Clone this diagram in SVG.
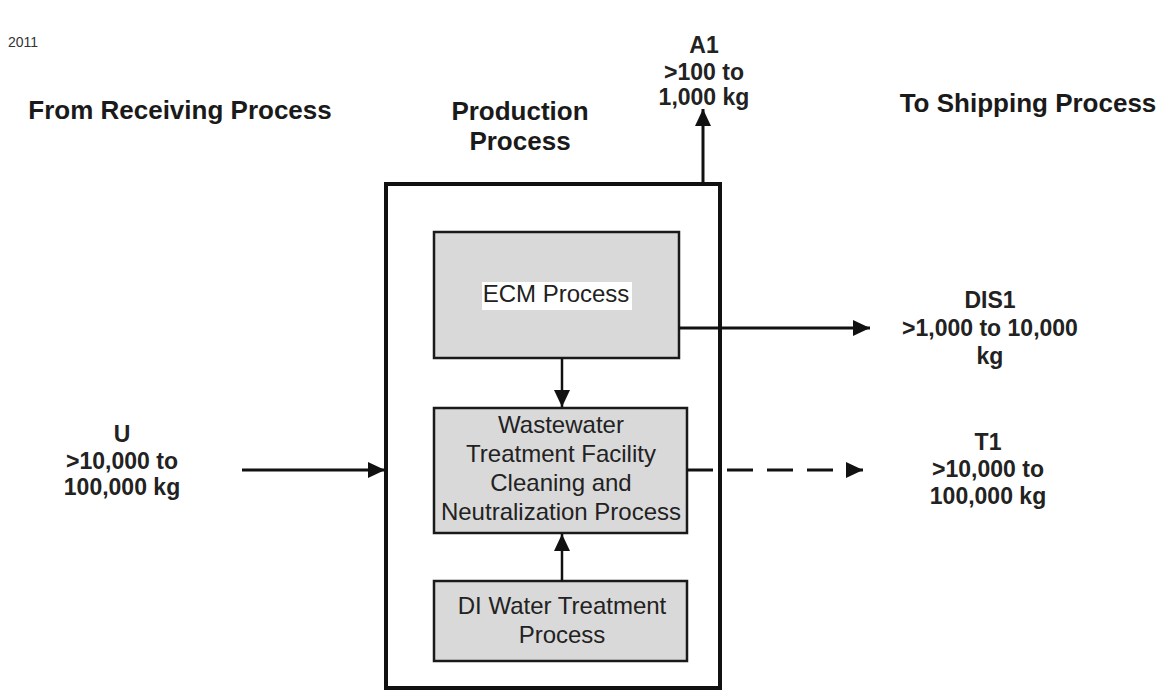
<svg xmlns="http://www.w3.org/2000/svg" width="1167" height="692" viewBox="0 0 1167 692">
<style>
.hdr{font-family:"Liberation Sans",Arial,sans-serif;font-weight:bold;font-size:26px;fill:#1a1a1a;text-anchor:middle}
.lbl{font-family:"Liberation Sans",Arial,sans-serif;font-weight:bold;font-size:23px;fill:#222;text-anchor:middle}
.box{fill:#d9d9d9;stroke:#1a1a1a;stroke-width:2.5}
.txt{font-family:"Liberation Sans",Arial,sans-serif;font-size:24px;fill:#222;text-anchor:middle}
.ln{stroke:#111;stroke-width:3;fill:none}
.ln2{stroke:#111;stroke-width:2.5;fill:none}
</style>
<defs>
<marker id="ah" markerUnits="userSpaceOnUse" markerWidth="18" markerHeight="18" refX="17" refY="8" orient="auto">
<path d="M0,0 L17,8 L0,16 z" fill="#111"/>
</marker>
</defs>
<rect width="1167" height="692" fill="#fff"/>
<text x="8" y="47" font-family="Liberation Sans,Arial,sans-serif" font-size="14" fill="#333">2011</text>
<g id="headers">
<text class="hdr" x="180" y="119">From Receiving Process</text>
<text class="hdr" x="520" y="120">Production</text>
<text class="hdr" x="520" y="150">Process</text>
<text class="hdr" x="1028" y="112">To Shipping Process</text>
</g>
<g id="production">
<rect x="386" y="184" width="334" height="504" fill="#fff" stroke="#111" stroke-width="4"/>
</g>
<g id="ecm">
<rect class="box" x="434" y="232" width="245" height="126"/>
<rect x="482" y="282" width="150" height="28" fill="#fff"/>
<text class="txt" x="556" y="302">ECM Process</text>
</g>
<g id="wastewater">
<rect class="box" x="434" y="408" width="253" height="125"/>
<text class="txt" x="561" y="433">Wastewater</text>
<text class="txt" x="561" y="462">Treatment Facility</text>
<text class="txt" x="561" y="491">Cleaning and</text>
<text class="txt" x="561" y="520">Neutralization Process</text>
</g>
<g id="diwater">
<rect class="box" x="434" y="581" width="253" height="80"/>
<text class="txt" x="562" y="614">DI Water Treatment</text>
<text class="txt" x="562" y="643">Process</text>
</g>
<g id="a1">
<text class="lbl" x="704" y="53">A1</text>
<text class="lbl" x="704" y="80">&gt;100 to</text>
<text class="lbl" x="704" y="105">1,000 kg</text>
</g>
<g id="dis1">
<text class="lbl" x="990" y="308">DIS1</text>
<text class="lbl" x="990" y="336">&gt;1,000 to 10,000</text>
<text class="lbl" x="990" y="364">kg</text>
</g>
<g id="t1">
<text class="lbl" x="988" y="450">T1</text>
<text class="lbl" x="988" y="477">&gt;10,000 to</text>
<text class="lbl" x="988" y="504">100,000 kg</text>
</g>
<g id="u">
<text class="lbl" x="122" y="442">U</text>
<text class="lbl" x="122" y="469">&gt;10,000 to</text>
<text class="lbl" x="122" y="495">100,000 kg</text>
</g>
<g id="connectors">
<line class="ln" x1="703" y1="184" x2="703" y2="109" marker-end="url(#ah)"/>
<line class="ln" x1="679" y1="328" x2="870" y2="328" marker-end="url(#ah)"/>
<line class="ln" x1="687" y1="470" x2="863" y2="470" stroke-dasharray="26 14" marker-end="url(#ah)"/>
<line class="ln" x1="242" y1="470" x2="385" y2="470" marker-end="url(#ah)"/>
<line class="ln2" x1="562" y1="358" x2="562" y2="407" marker-end="url(#ah)"/>
<line class="ln2" x1="562" y1="581" x2="562" y2="534" marker-end="url(#ah)"/>
</g>
</svg>
